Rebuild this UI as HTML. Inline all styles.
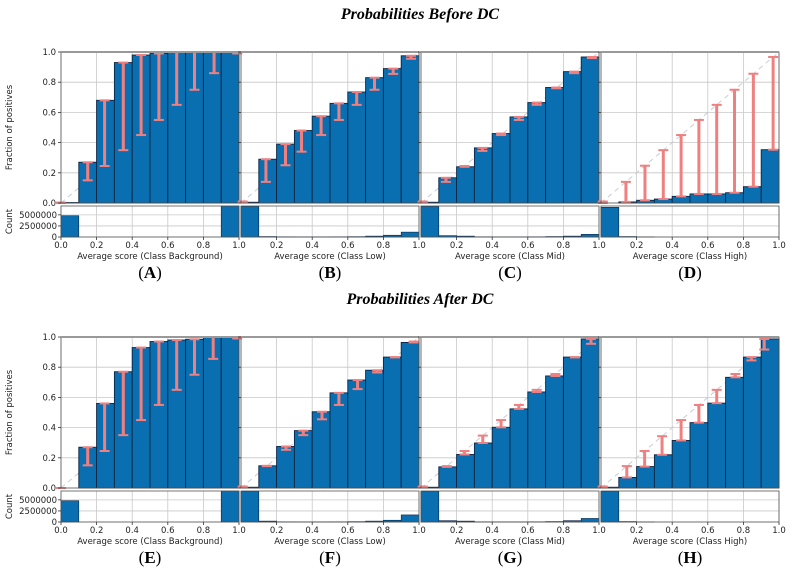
<!DOCTYPE html>
<html><head><meta charset="utf-8"><style>
body{margin:0;background:#fff}
svg{display:block}
</style></head><body>
<svg id="chart" width="790" height="575" xmlns="http://www.w3.org/2000/svg" font-family="DejaVu Sans, Liberation Sans, sans-serif">
<text x="420" y="19" text-anchor="middle" font-family="Liberation Serif, serif" font-style="italic" font-weight="bold" font-size="16">Probabilities Before DC</text>
<text x="420" y="304" text-anchor="middle" font-family="Liberation Serif, serif" font-style="italic" font-weight="bold" font-size="16">Probabilities After DC</text>
</svg>
<script>
const panelNames = ["A","B","C","D","E","F","G","H"];
const classNames = ["Background","Low","Mid","High","Background","Low","Mid","High"];
const xTicks = [0,0.2,0.4,0.6,0.8,1.0];
const yTicks = [0,0.2,0.4,0.6,0.8,1.0];
const countTicks = [0,2500000,5000000];
const fracA = [0.003,0.27,0.68,0.93,0.98,0.99,1.0,1.0,1.0,1.0];
const predA = [0.0,0.15,0.245,0.35,0.45,0.55,0.65,0.75,0.86,0.99];
const fracB = [0.005,0.29,0.39,0.48,0.575,0.66,0.735,0.83,0.89,0.975];
const predB = [0.01,0.14,0.25,0.34,0.45,0.55,0.65,0.75,0.855,0.955];
const fracC = [0.005,0.167,0.24,0.365,0.46,0.57,0.665,0.765,0.87,0.967];
const predC = [0.01,0.14,0.245,0.345,0.45,0.55,0.65,0.76,0.86,0.96];
const fracD = [0.0,0.007,0.018,0.026,0.044,0.06,0.06,0.068,0.108,0.353];
const predD = [0.01,0.14,0.247,0.35,0.45,0.55,0.65,0.75,0.856,0.967];
const fracE = [0.0,0.27,0.56,0.77,0.93,0.97,0.98,0.985,1.0,1.0];
const predE = [0.0,0.15,0.245,0.35,0.45,0.55,0.65,0.75,0.855,0.99];
const fracF = [0.005,0.147,0.275,0.38,0.505,0.63,0.715,0.78,0.867,0.964];
const predF = [0.01,0.145,0.253,0.35,0.455,0.55,0.655,0.765,0.865,0.97];
const fracG = [0.005,0.14,0.222,0.298,0.402,0.524,0.636,0.742,0.867,0.987];
const predG = [0.01,0.145,0.245,0.347,0.45,0.55,0.65,0.755,0.865,0.955];
const fracH = [0.005,0.07,0.142,0.22,0.315,0.433,0.562,0.733,0.867,0.987];
const predH = [0.01,0.145,0.245,0.343,0.45,0.55,0.65,0.755,0.845,0.917];
const countA = [4800000,0,0,0,0,0,0,0,0,7500000];
const countB = [6900000,100000,50000,30000,30000,50000,80000,200000,400000,1100000];
const countC = [6900000,300000,200000,50000,30000,30000,50000,100000,200000,600000];
const countD = [6700000,100000,20000,0,0,0,0,0,0,0];
const countE = [4800000,0,0,0,0,0,0,0,0,7500000];
const countF = [6900000,200000,50000,30000,30000,50000,80000,200000,400000,1600000];
const countG = [6900000,300000,200000,50000,30000,30000,50000,100000,300000,800000];
const countH = [6900000,100000,20000,0,0,0,0,0,0,0];
const fracs=[fracA,fracB,fracC,fracD,fracE,fracF,fracG,fracH];
const preds=[predA,predB,predC,predD,predE,predF,predG,predH];
const counts=[countA,countB,countC,countD,countE,countF,countG,countH];

const NS="http://www.w3.org/2000/svg";
const svg=document.getElementById('chart');
function mk(tag,attrs,parent,txt){const e=document.createElementNS(NS,tag);for(const k in attrs)e.setAttribute(k,attrs[k]);if(txt!==undefined)e.textContent=txt;(parent||svg).appendChild(e);return e;}
const lefts=[61,241,421,601];
const W=178;
const countMax=7000000;
for(let p=0;p<8;p++){
  const row=Math.floor(p/4), col=p%4, off=row*285;
  const x0=lefts[col], top=52+off, bot=203+off, ctop=206+off, cbot=237+off;
  const g=mk('g',{});
  
  
  const sx=v=>x0+v*W, sy=v=>bot-v*(bot-top), sc=v=>cbot-Math.min(v,countMax)/countMax*(cbot-ctop);
  xTicks.forEach(t=>{mk('line',{x1:sx(t),x2:sx(t),y1:top,y2:bot,stroke:'#c8c8c8','stroke-width':0.8},g);mk('line',{x1:sx(t),x2:sx(t),y1:ctop,y2:cbot,stroke:'#c8c8c8','stroke-width':0.8},g);});
  yTicks.forEach(t=>{mk('line',{x1:x0,x2:x0+W,y1:sy(t),y2:sy(t),stroke:'#c8c8c8','stroke-width':0.8},g);});
  countTicks.forEach(t=>{mk('line',{x1:x0,x2:x0+W,y1:sc(t),y2:sc(t),stroke:'#c8c8c8','stroke-width':0.8},g);});
  mk('line',{x1:sx(0),y1:sy(0),x2:sx(1),y2:sy(1),stroke:'#c9ced6','stroke-width':1,'stroke-dasharray':'5,4'},g);
  fracs[p].forEach((v,i)=>{const r=mk('rect',{x:sx(i/10),y:sy(v),width:W/10,height:bot-sy(v),fill:'#0a6fb0',stroke:'#0b2545','stroke-width':0.9},g);
    
    });
  preds[p].forEach((m,i)=>{const f=fracs[p][i];const x=sx(m);
    const e=mk('g',{},g);
    
    
    mk('line',{x1:x,x2:x,y1:sy(f),y2:sy(m),stroke:'#f08080','stroke-width':3},e);
    [f,m].forEach(v=>mk('line',{x1:x-5,x2:x+5,y1:sy(v),y2:sy(v),stroke:'#f08080','stroke-width':2},e));});
  counts[p].forEach((v,i)=>{if(v<=0)return;const r=mk('rect',{x:sx(i/10),y:sc(v),width:W/10,height:cbot-sc(v),fill:'#0a6fb0',stroke:'#0b2545','stroke-width':0.6},g);
    
    });
  mk('rect',{x:x0,y:top,width:W,height:bot-top,fill:'none',stroke:'#555','stroke-width':0.8},g);
  mk('line',{x1:x0,x2:x0+W,y1:top,y2:top,stroke:'#999','stroke-width':2},g);
  mk('rect',{x:x0,y:ctop,width:W,height:cbot-ctop,fill:'none',stroke:'#555','stroke-width':0.8},g);
  xTicks.forEach((t,i)=>{if(col>0&&i===0)return;mk('line',{x1:sx(t),x2:sx(t),y1:cbot,y2:cbot+3,stroke:'#333','stroke-width':0.8},g);
    mk('text',{x:sx(t),y:cbot+11,'text-anchor':'middle','font-size':8.5,fill:'#222'},g,t.toFixed(1));});
  mk('text',{x:x0+W/2,y:cbot+22,'text-anchor':'middle','font-size':8.5,fill:'#222'},g,'Average score (Class '+classNames[p]+')');
  const pl=mk('text',{x:x0+W/2,y:cbot+41,'text-anchor':'middle','font-size':17,'font-family':'Liberation Serif, serif',fill:'#000'},g);
  
  
  mk('tspan',{},pl,'(');mk('tspan',{'font-weight':'bold'},pl,panelNames[p]);mk('tspan',{},pl,')');
  yTicks.forEach(t=>mk('line',{x1:x0-3,x2:x0,y1:sy(t),y2:sy(t),stroke:'#333','stroke-width':0.8},g));
  if(col===0){
    yTicks.forEach(t=>mk('text',{x:x0-5,y:sy(t)+3,'text-anchor':'end','font-size':8.5,fill:'#222'},g,t.toFixed(1)));
    countTicks.forEach(t=>{mk('line',{x1:x0-3,x2:x0,y1:sc(t),y2:sc(t),stroke:'#333','stroke-width':0.8},g);
      mk('text',{x:x0-4,y:sc(t)+3,'text-anchor':'end','font-size':8.5,fill:'#222'},g,String(t));});
    const yl=mk('text',{x:0,y:0,'text-anchor':'middle','font-size':8.5,fill:'#222',transform:`translate(12,${(top+bot)/2}) rotate(-90)`},g,'Fraction of positives');
    
    
    const cl=mk('text',{x:0,y:0,'text-anchor':'middle','font-size':8.5,fill:'#222',transform:`translate(12,${(ctop+cbot)/2}) rotate(-90)`},g,'Count');
    
    
  }
}
</script>
</body></html>
